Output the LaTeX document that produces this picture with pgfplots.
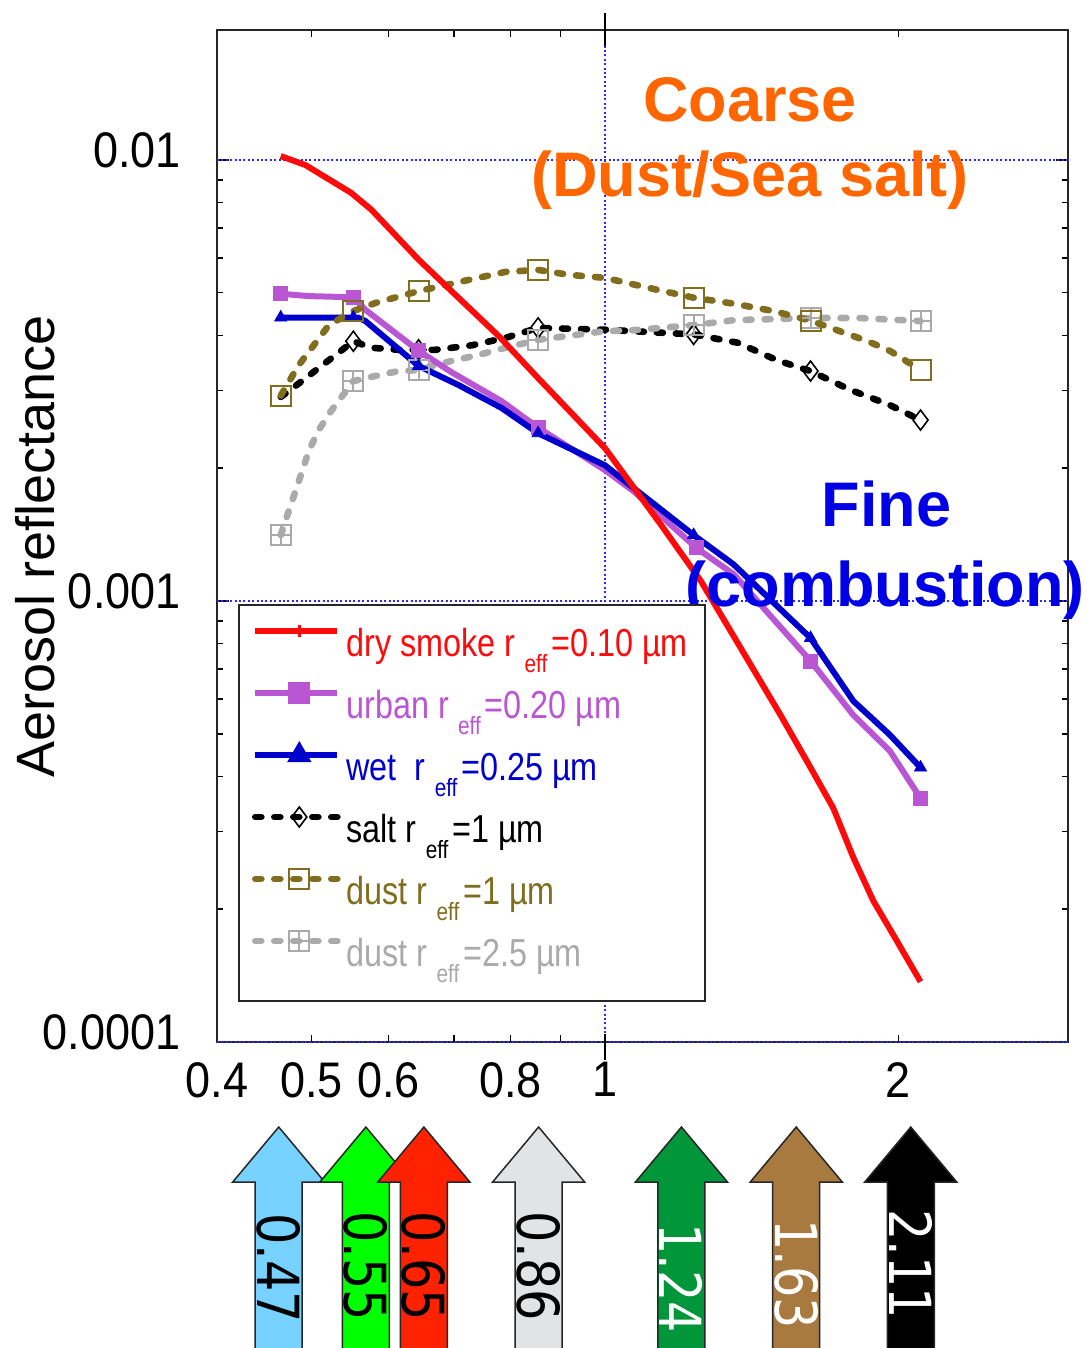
\documentclass[border=0pt]{standalone}
\usepackage{pgfplots}
\pgfplotsset{compat=1.18}
\usepackage{fontspec}
\setmainfont{Liberation Sans}
\newfontfamily\condfont{Liberation Sans}[FakeStretch=0.9]
\newfontfamily\legfont{Liberation Sans}[FakeStretch=0.83]
\newfontfamily\arrowfont{DejaVu Sans}[FakeStretch=0.85]

\definecolor{smoke}{RGB}{255,10,10}
\definecolor{urban}{RGB}{186,85,211}
\definecolor{wet}{RGB}{0,0,205}
\definecolor{dust}{RGB}{128,110,30}
\definecolor{dustg}{RGB}{170,170,170}
\definecolor{coarse}{RGB}{255,102,0}
\definecolor{fine}{RGB}{0,0,230}
\definecolor{gridblue}{RGB}{40,40,255}
\definecolor{a047}{RGB}{120,210,255}
\definecolor{a055}{RGB}{0,255,0}
\definecolor{a065}{RGB}{255,34,0}
\definecolor{a086}{RGB}{226,227,229}
\definecolor{a124}{RGB}{0,150,57}
\definecolor{a163}{RGB}{168,122,64}
\definecolor{a211}{RGB}{0,0,0}

\pgfdeclareplotmark{boxplus}{%
  \pgfpathrectangle{\pgfqpoint{-\pgfplotmarksize}{-\pgfplotmarksize}}{\pgfqpoint{2\pgfplotmarksize}{2\pgfplotmarksize}}%
  \pgfpathmoveto{\pgfqpoint{-\pgfplotmarksize}{0pt}}\pgfpathlineto{\pgfqpoint{\pgfplotmarksize}{0pt}}%
  \pgfpathmoveto{\pgfqpoint{0pt}{-\pgfplotmarksize}}\pgfpathlineto{\pgfqpoint{0pt}{\pgfplotmarksize}}%
  \pgfusepathqstroke}

\newcommand\eff{\hspace{4.5pt}\raisebox{-8pt}{\fontsize{12.5}{12.5}\selectfont eff}\hspace{2pt}}

\newcommand\bandarrow[5]{%
  \draw[line width=0.75pt, draw=black!85, fill=#2, line join=miter]
    ([xshift=-11.75pt,yshift=-154pt]axis cs:#1,0.0001) --
    ([xshift=-11.75pt,yshift=-70pt]axis cs:#1,0.0001) --
    ([xshift=-23pt,yshift=-70pt]axis cs:#1,0.0001) --
    ([yshift=-42.5pt]axis cs:#1,0.0001) --
    ([xshift=23pt,yshift=-70pt]axis cs:#1,0.0001) --
    ([xshift=11.75pt,yshift=-70pt]axis cs:#1,0.0001) --
    ([xshift=11.75pt,yshift=-154pt]axis cs:#1,0.0001) -- cycle;
  \node[rotate=-90, text=#3, font=\arrowfont\fontsize{29}{29}\selectfont, inner sep=0pt]
    at ([yshift=#5]axis cs:#1,0.0001) {#4};
}

\tikzset{dashy/.style={line width=3.3pt, dash pattern=on 3pt off 6.5pt, line cap=round}}

\begin{document}
\begin{tikzpicture}
\path[use as bounding box] (0,0) rectangle (543pt,674pt);
\begin{axis}[
  at={(108.5pt,153pt)}, anchor=south west,
  scale only axis, width=425.5pt, height=506pt,
  xmode=log, ymode=log,
  xmin=0.4, xmax=2.985, ymin=1e-4, ymax=0.0197,
  xtick={0.4,0.5,0.6,0.7,0.8,0.9,1,2},
  xticklabels={0.4,0.5,0.6,,0.8,,1,2},
  ytick={1e-4,1e-3,1e-2},
  yticklabels={0.0001,0.001,0.01},
  minor ytick={2e-4,3e-4,4e-4,5e-4,6e-4,7e-4,8e-4,9e-4,2e-3,3e-3,4e-3,5e-3,6e-3,7e-3,8e-3,9e-3},
  tick align=inside,
  major tick length=6pt, minor tick length=3pt,
  xtick style={/pgfplots/major tick length=3.5pt},
  tick style={black, line width=0.8pt},
  axis line style={line width=1pt, black!85},
  tick label style={font=\condfont\fontsize{25}{25}\selectfont, inner sep=0pt},
  yticklabel style={anchor=east, xshift=-18pt, yshift=5pt},
  xticklabel style={anchor=north, yshift=-10pt},
  ylabel={Aerosol reflectance},
  every axis y label/.style={at={(axis description cs:-0.2139,0.490)}, rotate=90, anchor=center, font=\fontsize{27}{27}\selectfont},
  clip=false,
  legend style={
    at={(0.0247,0.4328)}, anchor=north west,
    draw=black!85, line width=1pt, fill=white,
    inner xsep=6.5pt, inner ysep=6pt, row sep=0pt, column sep=1pt,
    font=\legfont\fontsize{19.5}{22}\selectfont,
    nodes={inner sep=2pt, text height=17.5pt, text depth=9.5pt},
    cells={anchor=west},
  },
  legend image code/.code={\draw[mark repeat=2,mark phase=2,#1] plot coordinates {(0pt,8.5pt) (22pt,8.5pt) (41pt,8.5pt)};},
]
% legend
\addlegendimage{smoke, line width=3pt, mark=|, mark size=3pt, mark options={line width=1.2pt}}
\addlegendentry{\textcolor{smoke}{dry smoke r\eff=0.10 µm}}
\addlegendimage{urban, line width=3pt, mark=square*, mark size=4pt}
\addlegendentry{\textcolor{urban}{urban r\eff=0.20 µm}}
\addlegendimage{wet, line width=3pt, mark=triangle*, mark size=4pt}
\addlegendentry{\textcolor{wet}{wet\ \ r\eff=0.25 µm}}
\addlegendimage{black, dashy, mark=diamond, mark size=5pt, mark options={solid, line width=0.8pt, fill=white}}
\addlegendentry{\textcolor{black}{salt r\eff=1 µm}}
\addlegendimage{dust, dashy, mark=square, mark size=5pt, mark options={solid, line width=1pt, fill=white}}
\addlegendentry{\textcolor{dust}{dust r\eff=1 µm}}
\addlegendimage{dustg, dashy, mark=boxplus, mark size=5pt, mark options={solid, line width=1pt, fill=white}}
\addlegendentry{\textcolor{dustg}{dust r\eff=2.5 µm}}

% grid lines
\draw[gridblue, line width=1pt, dash pattern=on 1pt off 1.2pt] (axis cs:0.4,0.01) -- (axis cs:2.985,0.01);
\draw[gridblue, line width=1pt, dash pattern=on 1pt off 1.2pt] (axis cs:0.4,0.001) -- (axis cs:2.985,0.001);
\draw[gridblue, line width=1pt, dash pattern=on 1pt off 1.2pt] (axis cs:0.4,0.0001) -- (axis cs:2.985,0.0001);
\draw[gridblue, line width=1pt, dash pattern=on 1pt off 1.2pt] (axis cs:1,0.0001) -- (axis cs:1,0.0197);
\draw[black, line width=1pt] ([yshift=-8pt]axis cs:1,0.0197) -- ([yshift=8.5pt]axis cs:1,0.0197);
\draw[black, line width=1pt] ([yshift=4pt]axis cs:1,0.0001) -- ([yshift=-9pt]axis cs:1,0.0001);

% salt r=1
\addplot[forget plot, black, dashy] coordinates {
(0.465,0.00290) (0.485,0.00311) (0.552,0.00388) (0.576,0.00375) (0.614,0.00371) (0.644,0.00371)
(0.670,0.00371) (0.731,0.00380) (0.791,0.00395) (0.854,0.00416) (1.0,0.00412) (1.233,0.00402)
(1.368,0.00385) (1.503,0.00351) (1.625,0.00332) (1.785,0.00301) (1.96,0.00278) (2.107,0.00257)};
\addplot[forget plot, only marks, black, mark=diamond, mark size=5pt, mark options={solid, line width=0.8pt}] coordinates {
(0.552,0.00388) (0.644,0.00371) (0.854,0.00416) (1.233,0.00402) (1.625,0.00332) (2.107,0.00257)};

% dust r=2.5
\addplot[forget plot, dustg, dashy] coordinates {
(0.465,0.00141) (0.497,0.00219) (0.508,0.00243) (0.524,0.00270) (0.552,0.00315) (0.568,0.00320)
(0.610,0.00331) (0.644,0.00334) (0.696,0.00350) (0.741,0.00361) (0.791,0.00375) (0.854,0.00391)
(0.917,0.00399) (1.0,0.00409) (1.071,0.00411) (1.233,0.00422) (1.355,0.00433) (1.625,0.00438)
(1.82,0.00438) (2.107,0.00431)};
\addplot[forget plot, only marks, dustg, mark=boxplus, mark size=5pt, mark options={solid, line width=1pt}] coordinates {
(0.465,0.00141) (0.552,0.00315) (0.644,0.00334) (0.854,0.00391) (1.233,0.00422) (1.625,0.00438) (2.107,0.00431)};

% urban
\addplot[forget plot, urban, line width=3pt] coordinates {
(0.465,0.00497) (0.497,0.00491) (0.552,0.00488) (0.568,0.00457) (0.644,0.00369) (0.696,0.00330)
(0.783,0.00284) (0.854,0.00247) (1.0,0.00198) (1.071,0.00177) (1.24,0.00132) (1.355,0.00115)
(1.625,0.000731) (1.798,0.000551) (1.96,0.000457) (2.107,0.000357)};
\addplot[forget plot, only marks, urban, mark=square*, mark size=3.5pt] coordinates {
(0.465,0.00497) (0.552,0.00488) (0.644,0.00369) (0.854,0.00247) (1.24,0.00132) (1.625,0.000731) (2.107,0.000357)};

% wet
\addplot[forget plot, wet, line width=3pt] coordinates {
(0.465,0.00439) (0.552,0.00439) (0.558,0.00439) (0.568,0.00431) (0.644,0.00341) (0.707,0.00309)
(0.783,0.00274) (0.854,0.00240) (1.0,0.00203) (1.071,0.00180) (1.233,0.00141) (1.355,0.00121)
(1.625,0.000824) (1.798,0.000593) (1.96,0.000497) (2.107,0.000419)};
\addplot[forget plot, only marks, wet, mark=triangle*, mark size=3.5pt] coordinates {
(0.465,0.00439) (0.552,0.00439) (0.644,0.00341) (0.854,0.00240) (1.233,0.00141) (1.625,0.000824) (2.107,0.000419)};

% dust r=1
\addplot[forget plot, dust, dashy] coordinates {
(0.465,0.00292) (0.485,0.00342) (0.521,0.00422) (0.552,0.00454) (0.582,0.00474) (0.644,0.00504)
(0.724,0.00534) (0.790,0.00557) (0.854,0.00563) (0.917,0.00549) (1.0,0.00540) (1.133,0.00507)
(1.233,0.00487) (1.355,0.00472) (1.49,0.00454) (1.625,0.00432) (1.86,0.00388) (1.96,0.00369) (2.107,0.00334)};
\addplot[forget plot, only marks, dust, mark=square, mark size=5pt, mark options={solid, line width=1pt, fill=white}] coordinates {
(0.465,0.00292) (0.552,0.00454) (0.644,0.00504) (0.854,0.00563) (1.233,0.00487) (2.107,0.00334)};
\addplot[forget plot, only marks, dust, mark=square, mark size=5pt, mark options={solid, line width=1pt}] coordinates {
(1.625,0.00432)};

% dry smoke
\addplot[forget plot, smoke, line width=3pt] coordinates {
(0.465,0.0102) (0.493,0.00973) (0.549,0.00842) (0.576,0.00771) (0.644,0.00594) (0.696,0.00504)
(0.777,0.00400) (0.854,0.00320) (1.0,0.00222) (1.141,0.00149) (1.254,0.00111) (1.378,0.000782)
(1.514,0.000551) (1.625,0.000419) (1.715,0.000339) (1.798,0.000262) (1.885,0.000209) (1.976,0.000175)
(2.107,0.000137)};

% annotations
\node[anchor=base, text=coarse, font=\bfseries\fontsize{31.5}{31.5}\selectfont] at (rel axis cs:0.6263,0.910) {Coarse};
\node[anchor=base, text=coarse, font=\bfseries\fontsize{31.5}{31.5}\selectfont] at (rel axis cs:0.6263,0.835) {(Dust/Sea salt)};
\node[anchor=base, text=fine, font=\bfseries\fontsize{31.5}{31.5}\selectfont] at (rel axis cs:0.7867,0.509) {Fine};
\node[anchor=base, text=fine, font=\bfseries\fontsize{31.5}{31.5}\selectfont] at (rel axis cs:0.785,0.4308) {(combustion)};

% wavelength arrows
\bandarrow{0.4628}{a047}{black}{0.47}{-113pt}
\bandarrow{0.5686}{a055}{black}{0.55}{-112pt}
\bandarrow{0.6520}{a065}{black}{0.65}{-112pt}
\bandarrow{0.855}{a086}{black}{0.86}{-112pt}
\bandarrow{1.198}{a124}{white}{1.24}{-118pt}
\bandarrow{1.571}{a163}{white}{1.63}{-116pt}
\bandarrow{2.059}{a211}{white}{2.11}{-111pt}
\end{axis}
\end{tikzpicture}
\end{document}
